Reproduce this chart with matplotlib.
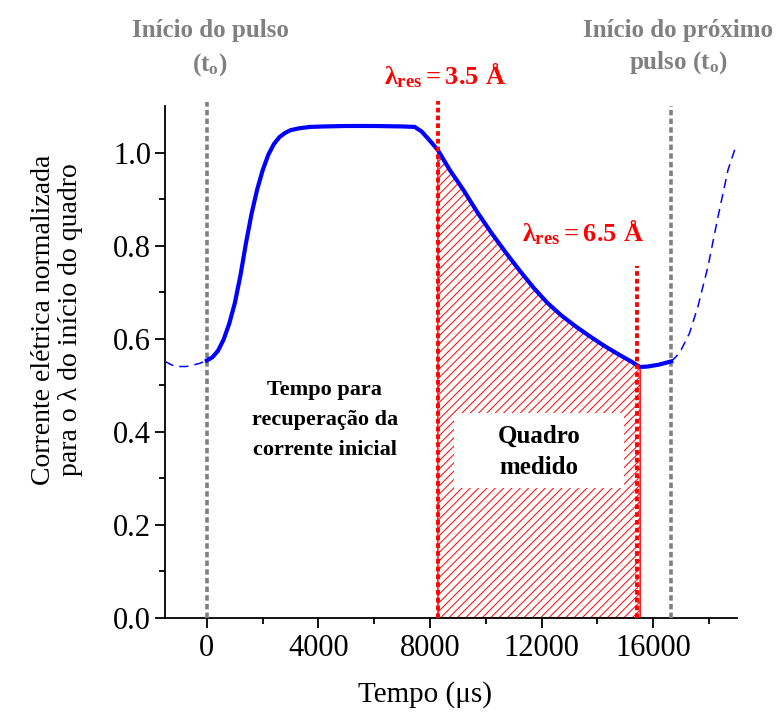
import numpy as np
import matplotlib
matplotlib.use("Agg")
import matplotlib.pyplot as plt
from matplotlib.patches import Rectangle

plt.rcParams['font.family'] = ['Liberation Serif', 'DejaVu Serif']
plt.rcParams['mathtext.fontset'] = 'custom'
plt.rcParams['mathtext.rm'] = 'Liberation Serif:bold'
plt.rcParams['mathtext.it'] = 'Liberation Serif:bold'
plt.rcParams['mathtext.bf'] = 'Liberation Serif:bold'
plt.rcParams['hatch.linewidth'] = 0.7

# ---- data (time in microseconds, normalized current) ----
t_pre = [-1500, -1250, -1000, -750, -500, -250, 0]
y_pre = [0.551, 0.543, 0.540, 0.540, 0.543, 0.547, 0.553]

t_main = [0, 200, 400, 600, 800, 1000, 1200, 1400, 1600, 1800, 2000, 2200, 2400,
          2600, 2800, 3000, 3300, 3700, 4200, 5000, 6000, 7000, 7450, 7700, 8000,
          8280, 8700, 9200, 9700, 10200, 10700, 11200, 11700, 12200, 12700, 13200,
          13700, 14200, 14700, 15200, 15410, 15530, 15800, 16200, 16640]
y_main = [0.553, 0.560, 0.574, 0.598, 0.632, 0.676, 0.735, 0.805, 0.868, 0.920,
          0.962, 0.995, 1.018, 1.033, 1.042, 1.048, 1.052, 1.055, 1.056, 1.057,
          1.057, 1.056, 1.055, 1.045, 1.025, 1.005, 0.963, 0.919, 0.871, 0.827,
          0.786, 0.747, 0.710, 0.677, 0.650, 0.627, 0.606, 0.586, 0.568, 0.551,
          0.543, 0.539, 0.540, 0.544, 0.551]

t_post = [16640, 16800, 17000, 17300, 17600, 17960, 18320, 18680, 18980]
y_post = [0.551, 0.560, 0.576, 0.612, 0.669, 0.755, 0.862, 0.963, 1.017]

t_pulse = 0
t_next_pulse = 16640
t_lambda35 = 8280
t_lambda65 = 15410
t_frame_end = 15530

x_ticks = [0, 4000, 8000, 12000, 16000]
y_ticks = [0.0, 0.2, 0.4, 0.6, 0.8, 1.0]

fig = plt.figure(figsize=(7.77, 7.2), dpi=100)
ax = fig.add_axes([0.2124, 0.142, 0.7361, 0.7108])

# hatched measured frame
tm = np.array(t_main)
ym = np.array(y_main)
mask = (tm >= t_lambda35) & (tm <= t_frame_end)
ax.fill_between(tm[mask], 0, ym[mask], facecolor='none', edgecolor='red',
                hatch='////', linewidth=1.0, zorder=1)

# white box behind "Quadro medido"
ax.add_patch(Rectangle((8850, 0.278), 6110, 0.162, facecolor='white',
                       edgecolor='none', zorder=2))
ax.text(11900, 0.356, 'Quadro\nmedido', ha='center', va='center', fontsize=18,
        fontweight='bold', linespacing=1.45, zorder=3)

ax.text(4230, 0.425, 'Tempo para\nrecuperação da\ncorrente inicial', ha='center',
        va='center', fontsize=16, fontweight='bold', linespacing=1.65, zorder=3)

# curves
ax.plot(t_pre, y_pre, color='blue', lw=1.1, dashes=(6, 4), zorder=4)
ax.plot(t_post, y_post, color='blue', lw=1.1, dashes=(6, 4), zorder=4)
ax.plot(t_main, y_main, color='blue', lw=3.0, zorder=5)

# vertical markers
ax.plot([t_pulse, t_pulse], [0, 1.109], color='#808080', lw=2.6,
        dashes=(1.5, 0.9), clip_on=False, zorder=3)
ax.plot([t_next_pulse, t_next_pulse], [0, 1.10], color='#808080', lw=2.6,
        dashes=(1.5, 0.9), clip_on=False, zorder=3)
ax.plot([t_lambda35, t_lambda35], [0, 1.11], color='red', lw=2.8,
        dashes=(1.2, 0.8), clip_on=False, zorder=6)
ax.plot([t_lambda65, t_lambda65], [0, 0.757], color='red', lw=2.8,
        dashes=(1.2, 0.8), clip_on=False, zorder=6)

ax.set_xlim(-1500, 19000)
ax.set_ylim(0, 1.1)
ax.set_xticks(x_ticks)
ax.set_xticks(np.arange(2000, 19000, 4000), minor=True)
ax.set_yticks(y_ticks)
ax.set_yticklabels([f'{v:.1f}' for v in y_ticks])
ax.set_yticks(np.arange(0.1, 1.1, 0.2), minor=True)
for s in ['top', 'right']:
    ax.spines[s].set_visible(False)
for s in ['left', 'bottom']:
    ax.spines[s].set_linewidth(1.3)
ax.tick_params(which='major', direction='out', length=7, width=1.3,
               labelsize=22, pad=3)
ax.tick_params(which='minor', direction='out', length=4.5, width=1.3)
ax.tick_params(axis='x', which='major', pad=5)

fig.text(425/777, 1 - 695/720, 'Tempo (μs)', ha='center', va='center', fontsize=21)
fig.text(57/777, 1 - 320/720, 'Corrente elétrica normalizada\npara o λ do início do quadro',
         ha='center', va='center', rotation=90, fontsize=20, linespacing=1.15,
         multialignment='center')

# top annotations
gray = '#808080'
fig.text(210/777, 1 - 30/720, 'Início do pulso', ha='center', va='center',
         fontsize=18, fontweight='bold', color=gray)
fig.text(210/777, 1 - 65/720, r'(t$_\mathrm{o}$)', ha='center', va='center',
         fontsize=18, fontweight='bold', color=gray)
fig.text(678/777, 1 - 30/720, 'Início do próximo', ha='center', va='center',
         fontsize=18, fontweight='bold', color=gray)
fig.text(678/777, 1 - 63/720, r'pulso (t$_\mathrm{o}$)', ha='center', va='center',
         fontsize=18, fontweight='bold', color=gray)

fig.text(445/777, 1 - 75/720, r'$\lambda_{\mathrm{res}} = 3.5\ \AA$', ha='center',
         va='center', fontsize=19, color='red')
fig.text(583/777, 1 - 232/720, r'$\lambda_{\mathrm{res}} = 6.5\ \AA$', ha='center',
         va='center', fontsize=19, color='red')

fig.savefig('out.png', dpi=100)
